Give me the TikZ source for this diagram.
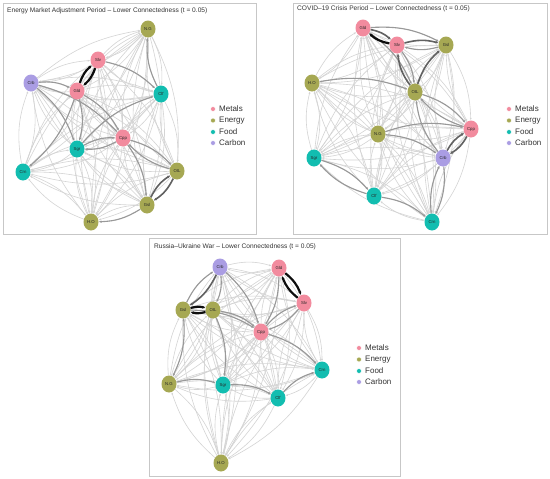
\documentclass[tikz,border=0pt]{standalone}
\usepackage{fontspec}
\setmainfont{Liberation Sans}
\usetikzlibrary{shapes.geometric,arrows.meta}
\pgfdeclarelayer{bg}
\pgfsetlayers{bg,main}
\definecolor{cMet}{HTML}{F28B9E}
\definecolor{cEne}{HTML}{A6A853}
\definecolor{cFood}{HTML}{12BDB0}
\definecolor{cCarb}{HTML}{AA9DE3}
\tikzset{
  vtx/.style={ellipse, minimum width=15pt, minimum height=17pt, inner sep=0pt,
    font=\fontsize{4.3}{5}\selectfont, text=black!85},
  met/.style={vtx, fill=cMet},
  ene/.style={vtx, fill=cEne},
  food/.style={vtx, fill=cFood},
  carb/.style={vtx, fill=cCarb},
  lt/.style={draw=black!17, line width=0.6pt, bend left=15,
    -{Latex[length=2.4pt,width=2pt]}},
  md/.style={draw=black!40, line width=1.1pt, bend left=15,
    -{Latex[length=2.8pt,width=2.4pt]}},
  dg/.style={draw=black!62, line width=1.6pt, bend left=15,
    -{Latex[length=3pt,width=2.8pt]}},
  dk/.style={draw=black!95, line width=2.2pt, bend left=15,
    -{Latex[length=3.2pt,width=3pt]}},
  panel/.style={draw=black!22, line width=0.7pt},
  ttl/.style={anchor=west, font=\fontsize{6.6}{7}\selectfont, text=black!80, inner sep=0pt},
  legtxt/.style={anchor=west, font=\fontsize{8}{9}\selectfont, text=black!80, inner sep=0pt},
  legdot/.style={circle, minimum size=5pt, inner sep=0pt, draw=white, line width=0.6pt},
}
\begin{document}
\begin{tikzpicture}[x=1pt,y=-1pt]
\useasboundingbox (0,0) rectangle (550,479);
\begin{pgfonlayer}{bg}
\fill[white] (0,0) rectangle (550,479);
\end{pgfonlayer}
% ---------------- frames
\draw[panel] (3,3) rectangle (256,234);
\draw[panel] (293,3) rectangle (547,234);
\draw[panel] (149,238) rectangle (400,476);
% ---------------- titles
\node[ttl] (t1) at (7,11) {Energy Market Adjustment Period -- Lower Connectedness (t = 0.05)};
\node[ttl] (t2) at (297,9) {COVID--19 Crisis Period -- Lower Connectedness (t = 0.05)};
\node[ttl] (t3) at (154,247) {Russia--Ukraine War -- Lower Connectedness (t = 0.05)};
% ---------------- legends
\foreach \p/\x/\y in {L1/213/109, L2/509/109, L3/359/348}{
  \node[legdot, fill=cMet] (\p m) at (\x,\y) {};
  \node[legdot, fill=cEne] (\p e) at (\x,\y+11.5) {};
  \node[legdot, fill=cFood] (\p f) at (\x,\y+23) {};
  \node[legdot, fill=cCarb] (\p c) at (\x,\y+34) {};
  \node[legtxt] at (\x+6,\y) {Metals};
  \node[legtxt] at (\x+6,\y+11.5) {Energy};
  \node[legtxt] at (\x+6,\y+23) {Food};
  \node[legtxt] at (\x+6,\y+34) {Carbon};
}
% ---------------- panel 1 nodes
\node[ene]  (ANG)  at (148,29)  {N.G};
\node[met]  (ASlv) at (98,60)   {Slv};
\node[carb] (ACrb) at (31,83)   {Crb};
\node[met]  (AGld) at (77,91)   {Gld};
\node[food] (AClf) at (161,94)  {Clf};
\node[met]  (ACpp) at (123,138) {Cpp};
\node[food] (ASgr) at (77,149)  {Sgr};
\node[food] (ACrn) at (23,172)  {Crn};
\node[ene]  (AOIL) at (177,171) {OIL};
\node[ene]  (AGsl) at (147,205) {Gsl};
\node[ene]  (AHO)  at (91,222)  {H.O};
% ---------------- panel 2 nodes
\node[met]  (BGld) at (363,28)  {Gld};
\node[met]  (BSlv) at (397,45)  {Slv};
\node[ene]  (BGsl) at (446,45)  {Gsl};
\node[ene]  (BHO)  at (312,83)  {H.O};
\node[ene]  (BOIL) at (415,92)  {OIL};
\node[met]  (BCpp) at (471,129) {Cpp};
\node[ene]  (BNG)  at (378,134) {N.G};
\node[food] (BSgr) at (314,158) {Sgr};
\node[carb] (BCrb) at (443,158) {Crb};
\node[food] (BClf) at (374,196) {Clf};
\node[food] (BCrn) at (432,222) {Crn};
% ---------------- panel 3 nodes
\node[carb] (CCrb) at (220,267) {Crb};
\node[met]  (CGld) at (279,268) {Gld};
\node[met]  (CSlv) at (304,303) {Slv};
\node[ene]  (CGsl) at (183,310) {Gsl};
\node[ene]  (COIL) at (213,310) {OIL};
\node[met]  (CCpp) at (261,332) {Cpp};
\node[food] (CCrn) at (322,370) {Crn};
\node[ene]  (CNG)  at (169,384) {N.G};
\node[food] (CSgr) at (223,385) {Sgr};
\node[food] (CClf) at (278,398) {Clf};
\node[ene]  (CHO)  at (221,463) {H.O};
% ---------------- edges
\begin{pgfonlayer}{bg}
\foreach \P in {A,B,C}{
  \foreach \a [count=\i] in {NG,Slv,Crb,Gld,Clf,Cpp,Sgr,Crn,OIL,Gsl,HO}{
    \foreach \b [count=\j] in {NG,Slv,Crb,Gld,Clf,Cpp,Sgr,Crn,OIL,Gsl,HO}{
      \ifnum\j>\i
        \draw[lt] (\P\a) to (\P\b);
        \draw[lt] (\P\b) to (\P\a);
      \fi
    }
  }
}
% panel 1 emphasis
\foreach \a/\b in {Gld/Cpp, Sgr/Clf, Crb/Gld, Crb/Sgr, Sgr/Cpp, Cpp/Gsl, Gsl/HO,
  Clf/NG, Gld/Crn, Crb/Cpp, Slv/Clf, Cpp/Sgr, Gld/Sgr, OIL/Cpp}
  \draw[md] (A\a) to (A\b);
\draw[dg] (AOIL) to (AGsl);
\draw[dg] (AGsl) to (AOIL);
\draw[md] (ACpp) to (AOIL);
\draw[dk] (ASlv) to (AGld);
\draw[dk] (AGld) to (ASlv);
% panel 2 emphasis
\foreach \a/\b in {Gld/OIL, OIL/Cpp, Crb/Crn, Sgr/Clf, Clf/Crn, HO/OIL, NG/Crb,
  Crb/OIL, Clf/Sgr, Crn/Crb, Gld/Gsl, Cpp/OIL, Slv/OIL, NG/Cpp}
  \draw[md] (B\a) to (B\b);
\draw[dg] (BSlv) to (BGsl);
\draw[md] (BGsl) to (BSlv);
\draw[dg] (BOIL) to (BGsl);
\draw[dg] (BOIL) to (BSlv);
\draw[dg] (BCpp) to (BCrb);
\draw[dg] (BCrb) to (BCpp);
\draw[dg] (BGld) to (BSlv);
\draw[dk] (BSlv) to (BGld);
% panel 3 emphasis
\foreach \a/\b in {Crb/OIL, Cpp/Slv, Gsl/Cpp, OIL/Cpp, Cpp/Crn, Gld/Cpp, Crb/Cpp,
  Gsl/NG, Sgr/Clf, NG/Sgr, Slv/Cpp, Gsl/Crb, Clf/Crn, OIL/Sgr}
  \draw[md] (C\a) to (C\b);
\draw[dg] (CCrb) to (CGsl);
\draw[dk] (CGsl) to (COIL);
\draw[dk] (COIL) to (CGsl);
\draw[dk] (CGld) to (CSlv);
\draw[dk] (CSlv) to (CGld);
\end{pgfonlayer}
\end{tikzpicture}
\end{document}
